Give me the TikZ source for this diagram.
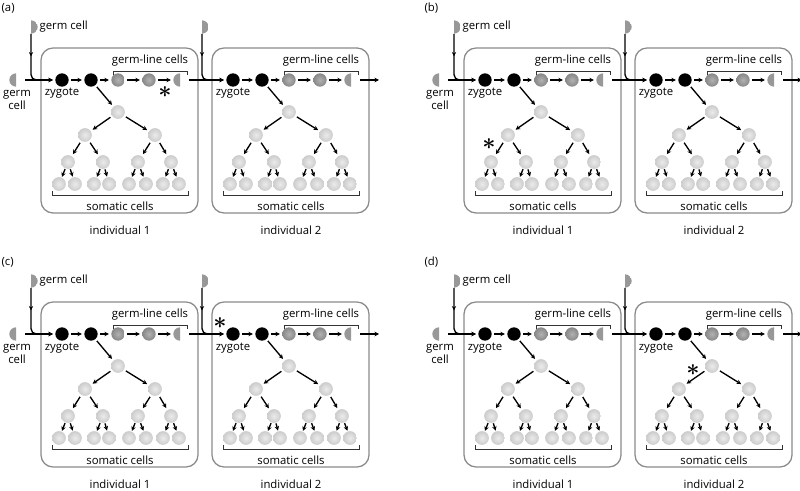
\documentclass[tikz,border=0pt]{standalone}
\usepackage{fontspec}
\setmainfont{Open Sans}
\usetikzlibrary{arrows.meta,positioning,decorations.markings}
\definecolor{glc}{HTML}{888888}
\definecolor{halfc}{HTML}{989898}
\definecolor{somc}{HTML}{CCCCCC}
\definecolor{boxc}{HTML}{8A8A8A}
\tikzset{
  cell/.style={circle, inner sep=0pt, minimum size=10pt},
  zyg/.style={cell, fill=black},
  glcell/.style={cell, shading=radial, inner color=glc!65, outer color=glc},
  somcell/.style={cell, minimum size=10.3pt, shading=radial, inner color=somc!40, outer color=somc},
  lhalf/.style={cell, path picture={\fill[halfc] (path picture bounding box.south) arc[start angle=-90, end angle=-270, radius=5pt] -- cycle;}},
  rhalf/.style={cell, path picture={\fill[halfc] (path picture bounding box.north) arc[start angle=90, end angle=-90, radius=5pt] -- cycle;}},
  arr/.style={-{Stealth[length=3.4pt, width=3.4pt]}, line width=1pt, shorten <=1.6pt, shorten >=1.6pt},
  wire/.style={arr, shorten <=0pt, rounded corners=4pt, postaction={decorate},
    decoration={markings, mark=at position 0.33 with {\arrow{Stealth[length=3.2pt, width=3.2pt]}}}},
  indbox/.style={draw=boxc, line width=0.95pt, rounded corners=9pt},
  bracket/.style={draw=black!80, line width=0.5pt},
  lbl/.style={font=\fontsize{8.5}{9.6}\selectfont, inner sep=1pt},
  star/.style={font=\fontsize{18}{18}\selectfont\boldmath, inner sep=0pt},
}
% one individual: name prefix, x, y
\newcommand{\indiv}[3]{%
\begin{scope}[shift={(#2,#3)}]
  \draw[indbox] (41,48) rectangle (198,213);
  \node[rhalf] (#1top) at (31,27) {};
  \node[zyg] (#1z) at (62,80) {};
  \node[zyg] (#1d) at (91,80) {};
  \node[glcell] (#1ga) at (118,80) {};
  \node[glcell] (#1gb) at (149,80) {};
  \node[lhalf] (#1h) at (180,80) {};
  \draw[arr] (#1z) -- (#1d);
  \draw[arr] (#1d) -- (#1ga);
  \draw[arr] (#1ga) -- (#1gb);
  \draw[arr] (#1gb) -- (#1h);
  \draw[wire] (#1top) |- (#1z);
  \node[lbl, below=0pt of #1z] (#1ztxt) {zygote};
  \draw[bracket] (113,75) -- (113,71) -- (187,71) -- (187,75);
  \node[lbl] (#1gltxt) at (150,61) {germ-line cells};
  % somatic tree
  \node[somcell] (#1s) at (118,112) {};
  \node[somcell] (#1sl) at (85,135) {};
  \node[somcell] (#1sr) at (155,135) {};
  \foreach \x [count=\i] in {68,103,138,171}
    \node[somcell] (#1t\i) at (\x,162) {};
  \foreach \x [count=\i] in {59,75,94,109,129,146,163,179}
    \node[somcell] (#1u\i) at (\x,184) {};
  \draw[arr] (#1d) -- (#1s);
  \draw[arr] (#1s) -- (#1sl);
  \draw[arr] (#1s) -- (#1sr);
  \draw[arr] (#1sl) -- (#1t1);
  \draw[arr] (#1sl) -- (#1t2);
  \draw[arr] (#1sr) -- (#1t3);
  \draw[arr] (#1sr) -- (#1t4);
  \foreach \p/\c in {1/1,1/2,2/3,2/4,3/5,3/6,4/7,4/8}
    \draw[arr, shorten <=0.4pt, shorten >=0.4pt] (#1t\p) -- (#1u\c);
  \draw[bracket] (52,191) -- (52,195) -- (188,195) -- (188,191);
  \node[lbl] (#1sotxt) at (120,206) {somatic cells};
\end{scope}}
% one panel: name, x, y, letter
\newcommand{\panel}[4]{%
\begin{scope}[shift={(#2,#3)}]
  \node[lbl, anchor=west] (#1lab) at (0,8) {(#4)};
  \indiv{#1a}{0}{0}
  \indiv{#1b}{171}{0}
  \node[lhalf] (#1in) at (16,80) {};
  \node[lbl, align=center] (#1intxt) at (17,100) {germ\\cell};
  \node[lbl, anchor=west] (#1toptxt) at (38,27) {germ cell};
  \coordinate (#1out) at (379,80);
  \draw[arr] (#1in) -- (#1az);
  \draw[arr] (#1ah) -- (#1bz);
  \draw[arr, shorten >=0pt] (#1bh) -- (#1out);
  \node[lbl] (#1aind) at (120,230) {individual 1};
  \node[lbl] (#1bind) at (291,230) {individual 2};
\end{scope}}

\begin{document}
\begin{tikzpicture}[x=0.75pt, y=-0.75pt]
  \useasboundingbox (0,0) rectangle (800,491);
  \panel{pa}{0}{0}{a}
  \panel{pb}{423}{0}{b}
  \panel{pc}{0}{254}{c}
  \panel{pd}{423}{254}{d}
  % where the mutation happens
  \node[star] (sa) at (165,92) {$\ast$};
  \node[star] (sb) at (489,144) {$\ast$};
  \node[star] (sc) at (220,323) {$\ast$};
  \node[star] (sd) at (693,370) {$\ast$};
\end{tikzpicture}
\end{document}
